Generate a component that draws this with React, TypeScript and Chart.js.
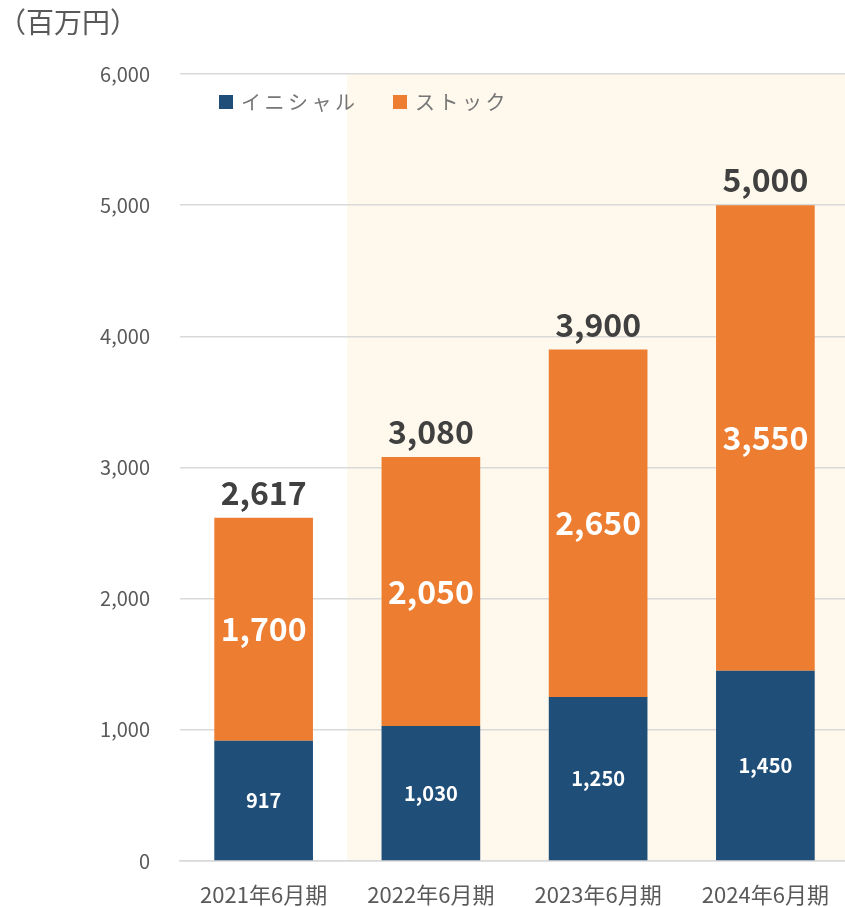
import React, { useEffect, useRef } from "react";
import { Chart, registerables } from "chart.js";

Chart.register(...registerables);

const categories = ["2021年6月期", "2022年6月期", "2023年6月期", "2024年6月期"];
const initialValues = [917, 1030, 1250, 1450];
const stockValues = [1700, 2050, 2650, 3550];
const totalValues = [2617, 3080, 3900, 5000];
const seriesNames = ["イニシャル", "ストック"];
const yMin = 0;
const yMax = 6000;
const yStep = 1000;
const unitLabel = "（百万円）";

const FONT = "'Noto Sans CJK JP', 'Noto Sans', sans-serif";
const BLUE = "#1F4E79";
const ORANGE = "#ED7D31";
const fmt = (v: number) => v.toLocaleString("en-US");

export default function App() {
  const ref = useRef<HTMLCanvasElement | null>(null);

  useEffect(() => {
    if (!ref.current) return;

    const highlightPlugin = {
      id: "highlight",
      beforeDraw(chart: any) {
        const { ctx, chartArea } = chart;
        const x = chart.scales.x;
        const start = (x.getPixelForValue(0) + x.getPixelForValue(1)) / 2;
        ctx.save();
        ctx.fillStyle = "#FEF9EC";
        ctx.fillRect(start, chartArea.top, chart.width - start, chartArea.bottom - chartArea.top);
        ctx.restore();
      },
    };

    const labelPlugin = {
      id: "labels",
      afterDatasetsDraw(chart: any) {
        const { ctx } = chart;
        const m0 = chart.getDatasetMeta(0);
        const m1 = chart.getDatasetMeta(1);
        ctx.save();
        ctx.textAlign = "center";
        ctx.textBaseline = "middle";
        m0.data.forEach((el: any, i: number) => {
          ctx.fillStyle = "#FFFFFF";
          ctx.font = `bold 20px ${FONT}`;
          ctx.fillText(fmt(initialValues[i]), el.x, (el.y + el.base) / 2);
        });
        m1.data.forEach((el: any, i: number) => {
          ctx.fillStyle = "#FFFFFF";
          ctx.font = `bold 32px ${FONT}`;
          ctx.fillText(fmt(stockValues[i]), el.x, (el.y + el.base) / 2);
          ctx.fillStyle = "#404040";
          ctx.fillText(fmt(totalValues[i]), el.x, el.y - 25);
        });
        ctx.restore();
      },
      afterDraw(chart: any) {
        const { ctx } = chart;
        ctx.save();
        // unit label
        ctx.fillStyle = "#595959";
        ctx.font = `28px ${FONT}`;
        ctx.textAlign = "left";
        ctx.textBaseline = "middle";
        ctx.fillText(unitLabel, -2, 22);
        // legend
        const items = [
          { name: seriesNames[0], color: BLUE, x: 219 },
          { name: seriesNames[1], color: ORANGE, x: 393 },
        ];
        ctx.font = `20px ${FONT}`;
        (ctx as any).letterSpacing = "3.5px";
        items.forEach((it) => {
          ctx.fillStyle = it.color;
          ctx.fillRect(it.x, 95, 14, 14);
          ctx.fillStyle = "#767676";
          ctx.fillText(it.name, it.x + 22, 102);
        });
        ctx.restore();
      },
    };

    const chart = new Chart(ref.current, {
      type: "bar",
      data: {
        labels: categories,
        datasets: [
          { label: seriesNames[0], data: initialValues, backgroundColor: BLUE, barPercentage: 0.59, categoryPercentage: 1 },
          { label: seriesNames[1], data: stockValues, backgroundColor: ORANGE, barPercentage: 0.59, categoryPercentage: 1 },
        ],
      },
      options: {
        responsive: true,
        maintainAspectRatio: false,
        animation: false,
        layout: { padding: { top: 74, right: 0, bottom: 0, left: 0 } },
        plugins: {
          legend: { display: false },
          tooltip: { enabled: false },
          title: { display: false },
        },
        scales: {
          x: {
            stacked: true,
            grid: { display: false },
            border: { display: true, color: "#D9D9D9", width: 1.5 },
            ticks: { color: "#595959", font: { family: FONT, size: 22 }, padding: 12 },
            afterFit(scale: any) {
              scale.height = 46;
            },
          },
          y: {
            stacked: true,
            min: yMin,
            max: yMax,
            grid: { color: "#D9D9D9", lineWidth: 1.5, drawTicks: false },
            border: { display: false },
            ticks: {
              stepSize: yStep,
              color: "#595959",
              font: { family: FONT, size: 20 },
              padding: 30,
              callback: (v: any) => fmt(Number(v)),
            },
            afterFit(scale: any) {
              scale.width = 180;
            },
          },
        },
      },
      plugins: [highlightPlugin, labelPlugin],
    });

    return () => chart.destroy();
  }, []);

  return (
    <div style={{ position: "absolute", left: 0, top: 0, width: 845, height: 907, overflow: "hidden" }}>
      <div style={{ position: "relative", width: 849, height: 907 }}>
        <canvas ref={ref} />
      </div>
    </div>
  );
}
